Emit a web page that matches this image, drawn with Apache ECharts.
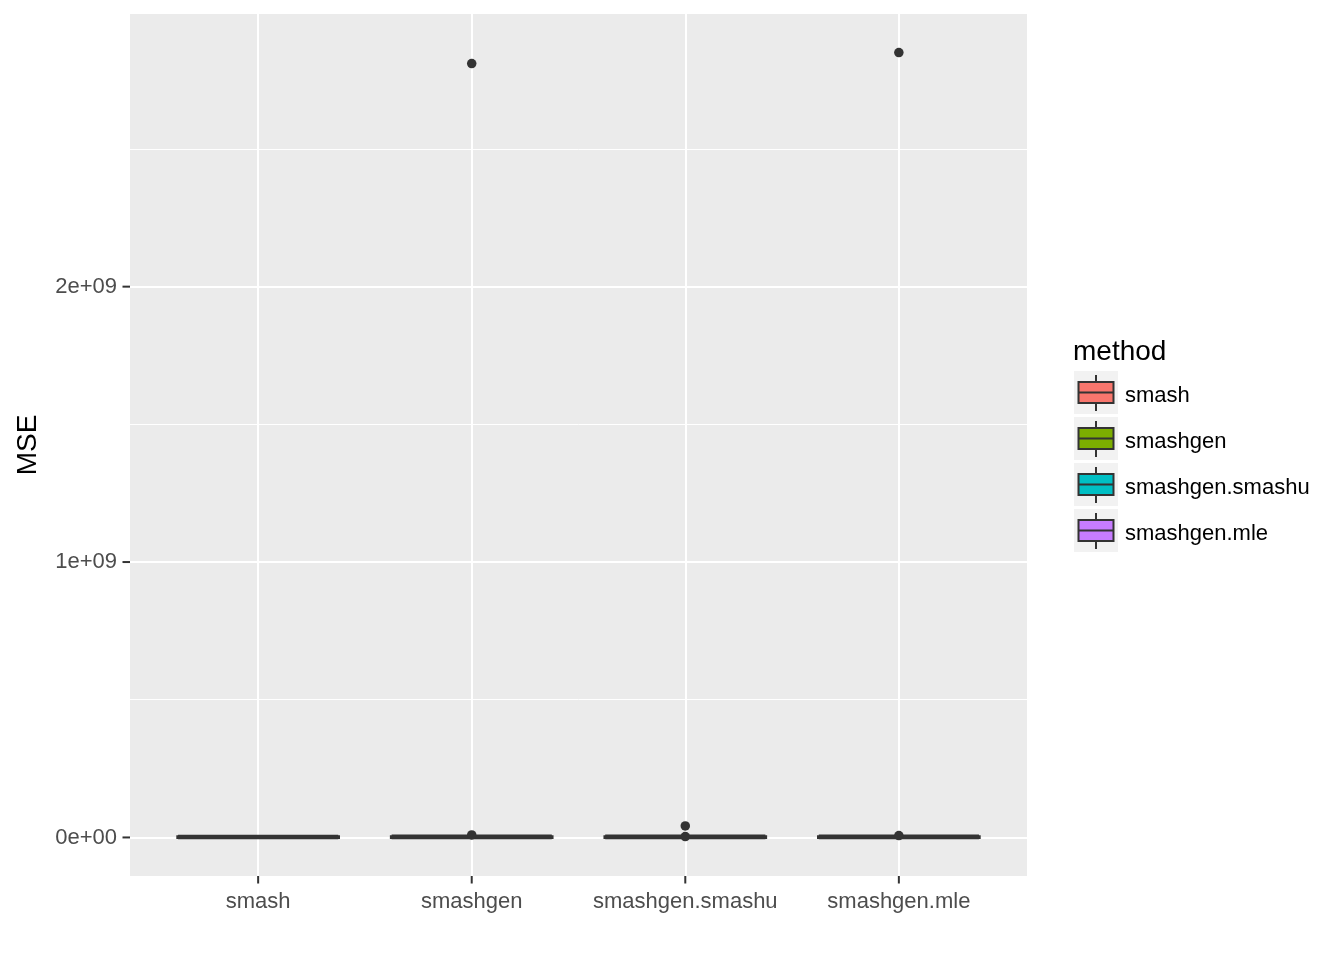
<!DOCTYPE html>
<html>
<head>
<meta charset="utf-8">
<script src="https://cdn.jsdelivr.net/npm/echarts@6/dist/echarts.min.js"></script>
<style>html,body{margin:0;padding:0;background:#fff}#c{width:1344px;height:960px}</style>
</head>
<body>
<div id="c"></div>
<script>
// ---- data ----
const categories = ['smash', 'smashgen', 'smashgen.smashu', 'smashgen.mle'];
const fillColors = ['#F8766D', '#7CAE00', '#00BFC4', '#C77CFF'];
// [min, Q1, median, Q3, max] (all close to zero)
const boxStats = [
  [0, 4e5, 8e5, 1.5e6, 3e6],
  [0, 5e5, 1e6, 2e6, 4e6],
  [0, 5e5, 1e6, 2e6, 4e6],
  [0, 5e5, 1e6, 2e6, 4e6]
];
// outliers: [category index, value]
const outliers = [
  [1, 2.81e9], [1, 9e6],
  [2, 4.2e7], [2, 3e6],
  [3, 2.85e9], [3, 7e6]
];
const yTicks = [0, 1e9, 2e9];
const yTickLabels = ['0e+00', '1e+09', '2e+09'];
const yMinor = [0.5e9, 1.5e9, 2.5e9];
const yName = 'MSE';
const legendTitle = 'method';
const yMin = -0.14e9, yMax = 2.99e9;

// ---- layout ----
const P = {left: 130, top: 14, width: 897, height: 862};
const unit = P.width / 4.2;
const font = 'Liberation Sans, Arial, sans-serif';

const chart = echarts.init(document.getElementById('c'));

const graphics = [];
graphics.push({type: 'text', left: 1073, top: 338, style: {text: legendTitle, font: '28px ' + font, fill: '#000'}});
categories.forEach((c, i) => {
  const y0 = 371 + 46 * i;
  graphics.push({type: 'rect', shape: {x: 1074, y: y0, width: 44, height: 43}, style: {fill: '#F2F2F2'}});
  graphics.push({type: 'line', shape: {x1: 1096, y1: y0 + 4, x2: 1096, y2: y0 + 40}, style: {stroke: '#333', lineWidth: 2}});
  graphics.push({type: 'rect', shape: {x: 1078.5, y: y0 + 11, width: 35, height: 21}, style: {fill: fillColors[i], stroke: '#333', lineWidth: 2}});
  graphics.push({type: 'line', shape: {x1: 1078.5, y1: y0 + 21.5, x2: 1113.5, y2: y0 + 21.5}, style: {stroke: '#333', lineWidth: 2}});
  graphics.push({type: 'text', left: 1125, top: y0 + 14, style: {text: c, font: '22px ' + font, fill: '#000'}});
});

const option = {
  animation: false,
  backgroundColor: '#fff',
  grid: [
    {left: P.left, top: P.top, width: P.width, height: P.height, show: true, backgroundColor: '#EBEBEB', borderWidth: 0},
    {left: P.left + 0.1 * unit, top: P.top, width: 4 * unit, height: P.height, show: false}
  ],
  xAxis: [
    {type: 'value', gridIndex: 0, min: -0.6, max: 3.6, show: false},
    {type: 'category', gridIndex: 1, data: categories, boundaryGap: true,
     axisLine: {show: false, onZero: false},
     axisTick: {show: false},
     axisLabel: {color: '#4D4D4D', fontSize: 22, fontFamily: font, margin: 15, interval: 0},
     splitLine: {show: false}}
  ],
  yAxis: [
    {type: 'value', gridIndex: 0, min: yMin, max: yMax,
     name: yName, nameLocation: 'middle', nameGap: 88, nameRotate: 90,
     nameTextStyle: {color: '#000', fontSize: 28, fontFamily: font},
     axisLine: {show: false, onZero: false},
     axisTick: {show: false},
     axisLabel: {color: '#4D4D4D', fontSize: 22, fontFamily: font, margin: 13, customValues: yTicks,
       formatter: v => { const k = yTicks.indexOf(v); return k >= 0 ? yTickLabels[k] : ''; }},
     splitLine: {show: false}},
    {type: 'value', gridIndex: 1, min: yMin, max: yMax, show: false}
  ],
  series: [
    {type: 'line', xAxisIndex: 0, yAxisIndex: 0, data: [], z: 1, silent: true,
     markLine: {silent: true, z: 1, symbol: 'none', label: {show: false}, animation: false,
       data: [
         ...yMinor.map(v => ({yAxis: v, lineStyle: {color: '#fff', width: 1, type: 'solid'}})),
         ...yTicks.map(v => ({yAxis: v, lineStyle: {color: '#fff', width: 2, type: 'solid'}})),
         ...categories.map((c, i) => ({xAxis: i, lineStyle: {color: '#fff', width: 2, type: 'solid'}}))
       ]}},
    {type: 'boxplot', xAxisIndex: 1, yAxisIndex: 1, z: 3,
     boxWidth: ['75%', '75%'],
     itemStyle: {borderColor: '#333', borderWidth: 3.5},
     data: boxStats.map((s, i) => ({value: s, itemStyle: {color: fillColors[i], borderColor: '#333', borderWidth: 3.5}}))},
    {type: 'scatter', xAxisIndex: 1, yAxisIndex: 1, z: 4, symbol: 'circle', symbolSize: 9.5,
     itemStyle: {color: '#333', opacity: 1}, data: outliers}
  ],
  graphic: graphics
};
chart.setOption(option);

// axis ticks placed through the library's own scales
const tickEls = [];
const panelLeft = P.left, panelBottom = P.top + P.height;
yTicks.forEach(v => {
  const py = chart.convertToPixel({yAxisIndex: 0}, v);
  tickEls.push({type: 'line', shape: {x1: panelLeft - 7.5, y1: py, x2: panelLeft, y2: py}, style: {stroke: '#333', lineWidth: 2}});
});
categories.forEach((c, i) => {
  const px = chart.convertToPixel({xAxisIndex: 1}, c);
  tickEls.push({type: 'line', shape: {x1: px, y1: panelBottom, x2: px, y2: panelBottom + 7.5}, style: {stroke: '#333', lineWidth: 2}});
});
chart.setOption({graphic: graphics.concat(tickEls)});
</script>
</body>
</html>
